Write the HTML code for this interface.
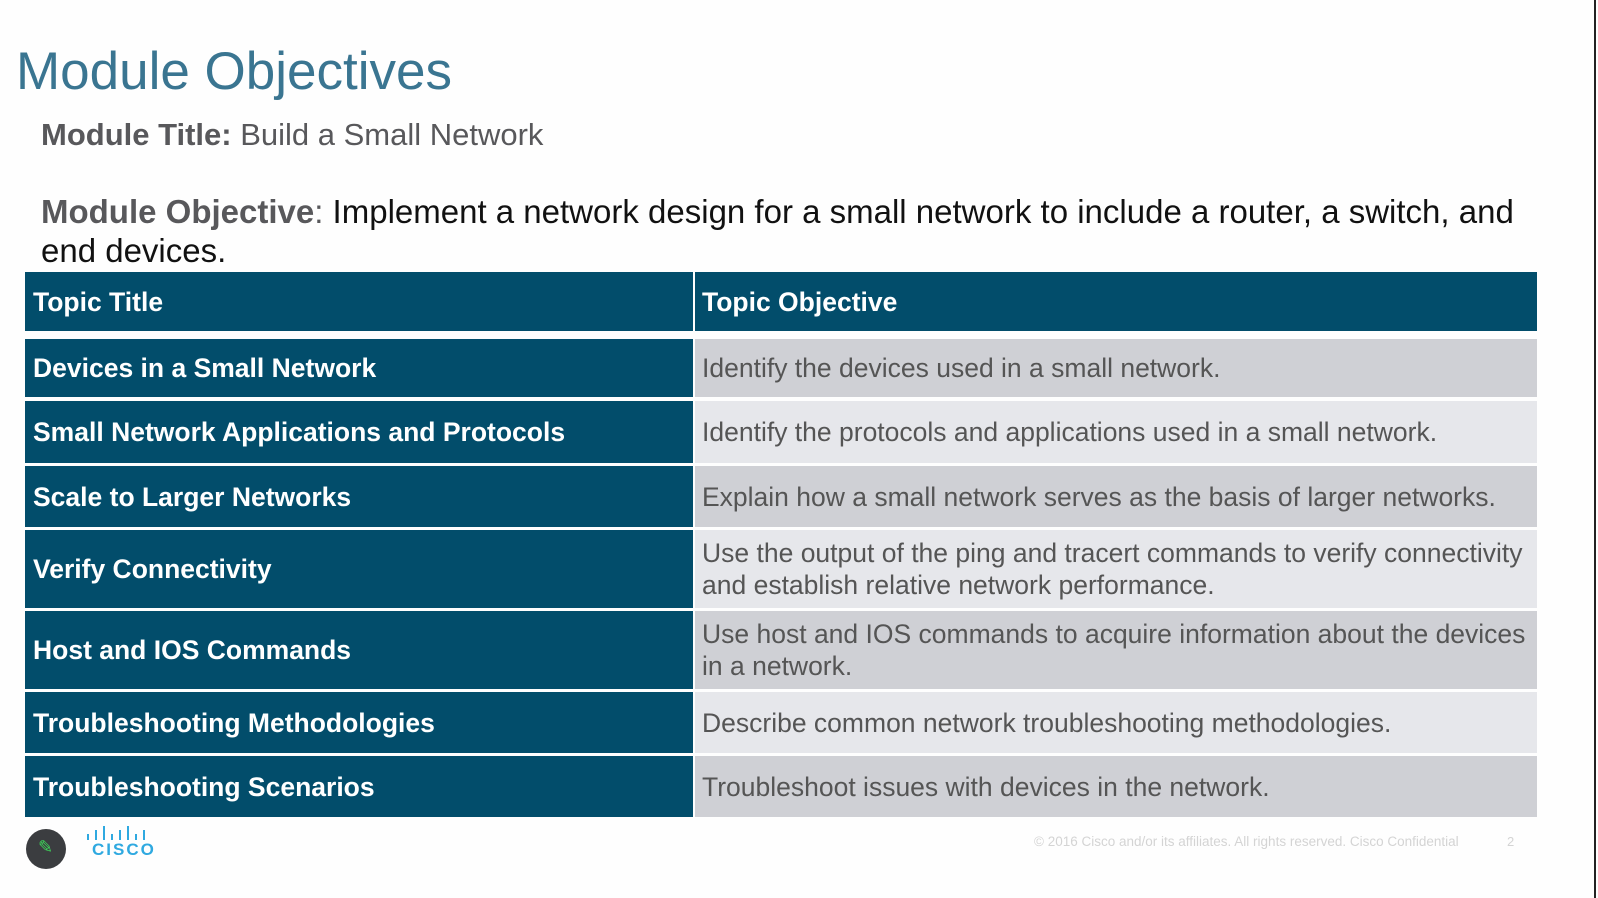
<!DOCTYPE html>
<html><head><meta charset="utf-8"><style>
*{margin:0;padding:0;box-sizing:border-box}
body{width:1598px;height:898px;background:#fefefe;position:relative;overflow:hidden;font-family:"Liberation Sans",Arial,sans-serif}
.t{position:absolute;white-space:nowrap}
.vl{position:absolute;left:1594px;top:0;width:2px;height:898px;background:#222}
.cell{position:absolute;display:flex;align-items:center;font-size:26.5px;line-height:32px}
.l{left:25px;width:668px;background:#024d6b;color:#fff;font-weight:bold;padding-left:8px}
.r{left:695px;width:842px;color:#555;padding-left:7px}
.g1{background:#cfd0d5}.g2{background:#e6e7eb}
</style></head><body>
<div class="vl"></div>
<div class="t" style="left:16px;top:41px;font-size:53px;color:#3a7591">Module Objectives</div>
<div class="t" style="left:41px;top:117px;font-size:31px;color:#58585b"><b>Module Title:</b> Build a Small Network</div>
<div class="t" style="left:41px;top:192px;font-size:33px;line-height:39px;color:#111;white-space:normal;width:1490px"><b style="color:#58585b">Module Objective</b><span style="color:#58585b">:</span> Implement a network design for a small network to include a router, a switch, and end devices.</div>

<div class="cell l" style="top:272px;height:59px">Topic Title</div>
<div class="cell r" style="top:272px;height:59px;background:#024d6b;color:#fff;font-weight:bold">Topic Objective</div>

<div class="cell l" style="top:339px;height:58px">Devices in a Small Network</div>
<div class="cell r g1" style="top:339px;height:58px">Identify the devices used in a small network.</div>

<div class="cell l" style="top:401px;height:62px">Small Network Applications and Protocols</div>
<div class="cell r g2" style="top:401px;height:62px">Identify the protocols and applications used in a small network.</div>

<div class="cell l" style="top:466px;height:61px">Scale to Larger Networks</div>
<div class="cell r g1" style="top:466px;height:61px">Explain how a small network serves as the basis of larger networks.</div>

<div class="cell l" style="top:530px;height:78px">Verify Connectivity</div>
<div class="cell r g2" style="top:530px;height:78px">Use the output of the ping and tracert commands to verify connectivity<br>and establish relative network performance.</div>

<div class="cell l" style="top:611px;height:78px">Host and IOS Commands</div>
<div class="cell r g1" style="top:611px;height:78px">Use host and IOS commands to acquire information about the devices<br>in a network.</div>

<div class="cell l" style="top:692px;height:61px">Troubleshooting Methodologies</div>
<div class="cell r g2" style="top:692px;height:61px">Describe common network troubleshooting methodologies.</div>

<div class="cell l" style="top:756px;height:61px">Troubleshooting Scenarios</div>
<div class="cell r g1" style="top:756px;height:61px">Troubleshoot issues with devices in the network.</div>

<div style="position:absolute;left:26px;top:829px;width:40px;height:40px;border-radius:50%;background:#3b3d40"></div>
<div class="t" style="left:38px;top:837px;font-size:18px;color:#3ed65a">✎</div>
<svg style="position:absolute;left:86px;top:824px" width="64" height="20">
<g stroke="#2fa9e0" stroke-width="2">
<line x1="2" y1="10" x2="2" y2="16"/><line x1="10" y1="6" x2="10" y2="16"/><line x1="18" y1="2" x2="18" y2="16"/><line x1="26" y1="10" x2="26" y2="16"/><line x1="34" y1="6" x2="34" y2="16"/><line x1="42" y1="2" x2="42" y2="16"/><line x1="50" y1="10" x2="50" y2="16"/><line x1="58" y1="6" x2="58" y2="16"/></g></svg>
<div class="t" style="left:92px;top:840px;font-size:17px;font-weight:bold;color:#2fa9e0;letter-spacing:2px">CISCO</div>
<div class="t" style="left:1034px;top:834px;font-size:13.5px;color:#d4d4d4">© 2016  Cisco and/or its affiliates. All rights reserved.   Cisco Confidential</div>
<div class="t" style="left:1507px;top:834px;font-size:13px;color:#d4d4d4">2</div>
</body></html>
